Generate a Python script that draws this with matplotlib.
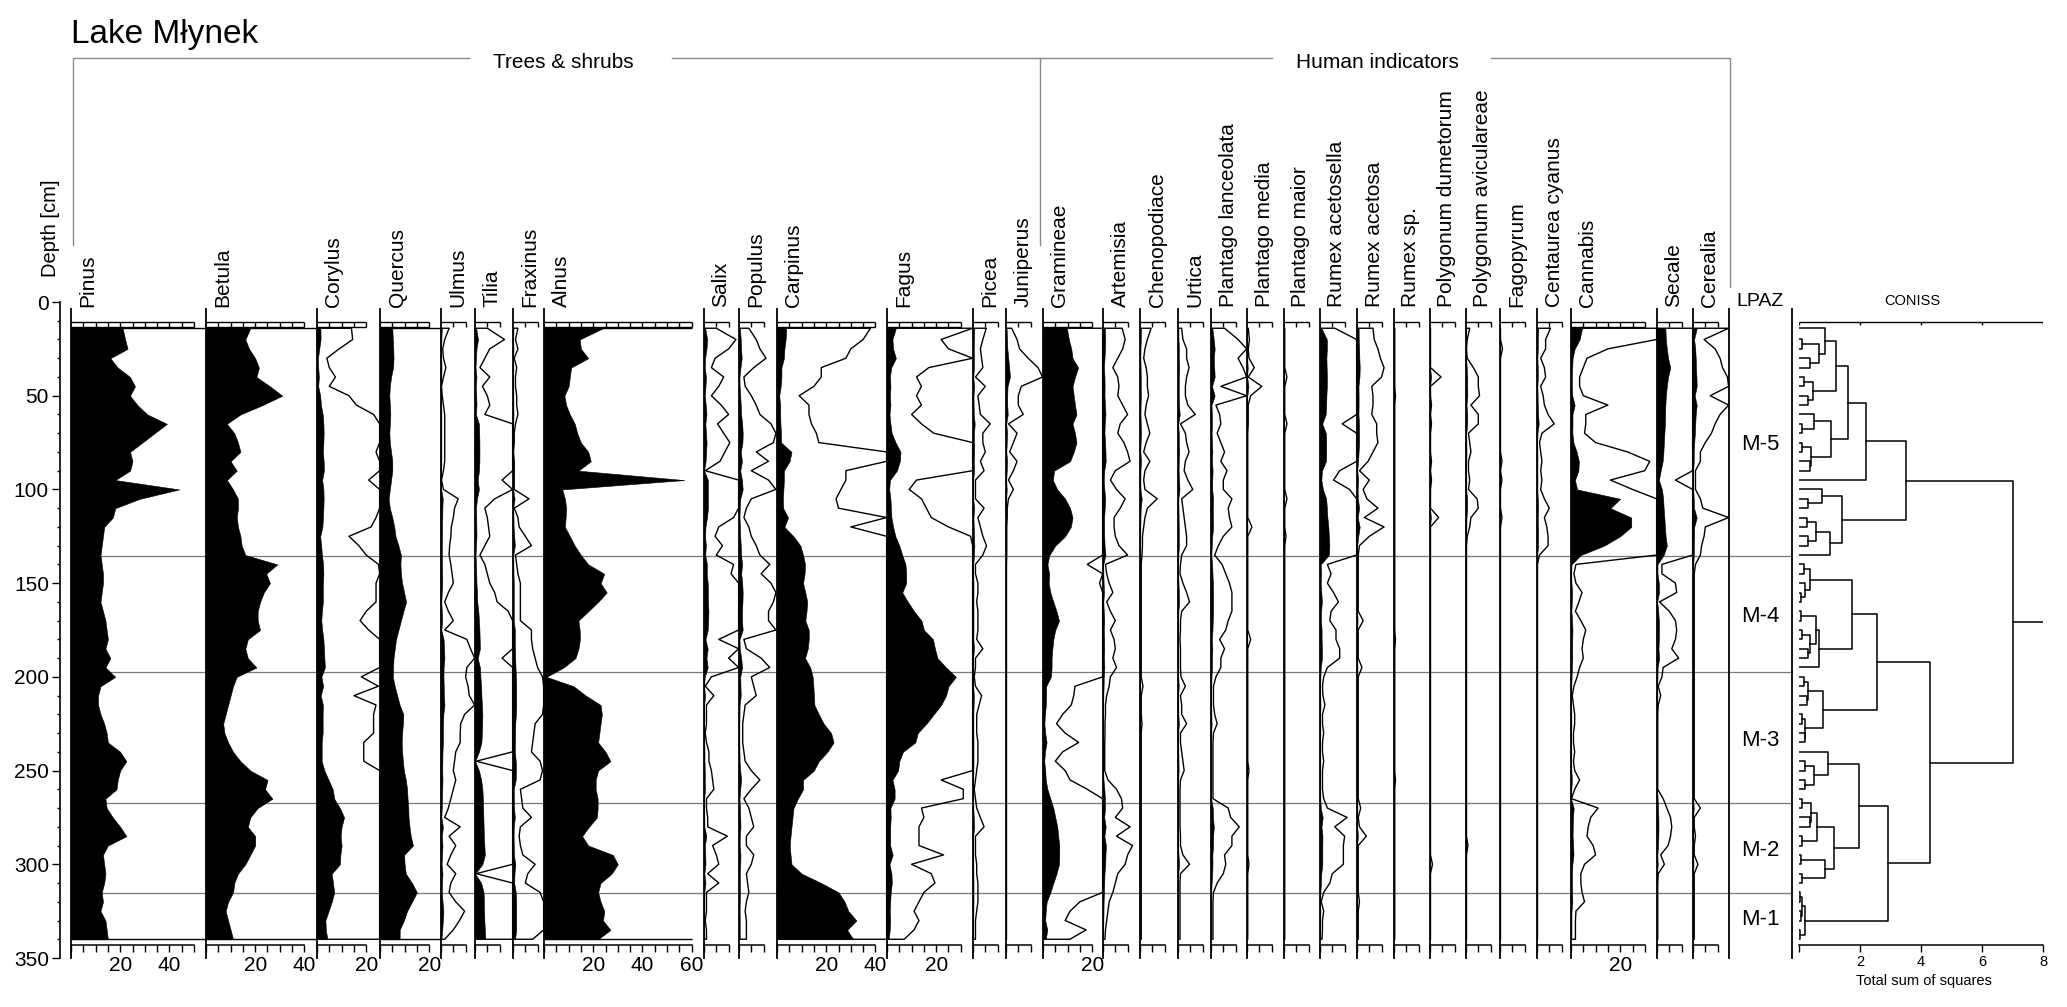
import numpy as np
import matplotlib.pyplot as plt
from matplotlib.ticker import MultipleLocator

plt.rcParams['font.family'] = ['Liberation Sans', 'DejaVu Sans']

# sample depths [cm]
depth = [14, 20, 25, 30, 35, 40, 45, 50, 55, 60,
         65, 70, 75, 80, 85, 90, 95, 100, 105, 110,
         115, 120, 125, 130, 135, 140, 145, 150, 155, 160,
         165, 170, 175, 180, 185, 190, 195, 200, 205, 210,
         215, 220, 225, 230, 235, 240, 245, 250, 255, 260,
         265, 270, 275, 280, 285, 290, 295, 300, 305, 310,
         315, 320, 325, 330, 335, 340]

# pollen percentages, one list per taxon (same order as depth)
pinus = [21, 22, 23, 16, 19, 24, 26, 24, 27, 31,
         39, 34, 29, 24, 25, 24, 18, 44, 28, 18,
         17, 13.5, 13, 12.5, 12, 12.5, 13, 13, 12.5, 12,
         13, 14, 14.5, 15, 14, 16, 14, 18, 12, 11,
         11, 12, 13.5, 14.5, 15, 20, 22.5, 20, 19, 18.5,
         14, 14.5, 17, 20, 22.5, 15, 13, 13.5, 14, 13.5,
         12.5, 13, 12, 14, 14.5, 15]
betula = [18, 16, 17.5, 20, 21.5, 20.5, 26, 31, 23, 14,
          8.5, 11.5, 13, 14, 10, 12.5, 8.5, 11, 13, 13,
          12.5, 13, 14, 14.5, 16, 29, 24.5, 26, 23.5, 22,
          21, 21, 22, 17, 16, 17, 20.5, 12.5, 11, 10,
          9, 8, 7, 7.5, 9, 11, 14, 18, 25, 24,
          27, 21, 18, 17, 20, 20, 18, 16, 13, 11.5,
          11, 9, 8, 9, 10, 11]
corylus = [1.4, 1.45, 0.9, 0.4, 0.5, 0.75, 0.5, 1.3, 1.6, 2.3,
           2.6, 2.7, 2.6, 2.4, 2.7, 2.8, 2.1, 2.6, 2.7, 2.6,
           2.4, 2.2, 1.3, 1.7, 2.0, 2.5, 2.6, 2.4, 2.4, 2.4,
           2.0, 1.75, 2.1, 2.6, 2.8, 3.0, 3.2, 1.8, 2.5, 1.5,
           2.4, 2.3, 2.3, 2.3, 1.9, 1.9, 1.9, 3.0, 4.7, 6.4,
           7, 9.3, 11, 10, 9.6, 10, 9.5, 9.3, 6, 6.5,
           7, 6, 4.7, 3.4, 3.6, 4.2]
quercus = [5, 5.2, 5.4, 5.5, 5.3, 4.5, 4, 3.8, 4, 4.2,
           4, 3.8, 4, 4.5, 5, 5, 4.5, 4, 3.5, 4,
           5, 5.8, 6.3, 7.5, 8.5, 8.3, 8.5, 9, 9.8, 10.6,
           9.5, 8.5, 7.5, 6.5, 6, 5.5, 5.3, 5.2, 6, 7,
           8, 9.5, 9.3, 9, 8.8, 9, 9.3, 9.7, 10.5, 11,
           11.2, 11.5, 11.6, 12, 12.5, 13.4, 9.8, 10, 10.5, 13,
           15, 13, 11, 9.7, 8, 8]
ulmus = [0.33, 0.15, 0.07, 0.1, 0.2, 0.1, 0.02, 0.05, 0.1, 0.15,
         0.15, 0.15, 0.15, 0.15, 0.15, 0.1, 0.02, 0.1, 0.7, 0.55,
         0.5, 0.42, 0.4, 0.35, 0.33, 0.4, 0.45, 0.5, 0.3, 0.15,
         0.3, 0.5, 0.15, 1.05, 1.2, 1.4, 1.05, 1.0, 1.1, 1.15,
         1.4, 0.96, 0.8, 0.78, 0.78, 0.6, 0.55, 0.5, 0.6, 0.5,
         0.4, 0.3, 0.15, 0.78, 0.33, 0.6, 0.4, 0.25, 0.6, 0.4,
         0.33, 0.6, 0.96, 0.75, 0.5, 0.15]
tilia = [0.5, 1.2, 0.6, 0.4, 0.2, 0.6, 0.3, 0.5, 0.6, 0.4,
         1.6, 1.7, 1.8, 1.8, 1.8, 1.6, 1.1, 1.6, 0.8, 0.4,
         0.5, 0.55, 0.6, 0.4, 0.2, 0.4, 0.5, 0.6, 0.8, 0.9,
         1.35, 1.6, 1.8, 1.9, 2.0, 1.1, 2.0, 2.2, 2.5, 2.6,
         2.8, 3.0, 2.9, 2.8, 2.6, 1.6, 0.05, 1.6, 2.5, 3.0,
         3.2, 3.3, 3.4, 3.5, 3.6, 3.8, 4.0, 3.0, 0.05, 2.5,
         3.5, 3.6, 3.7, 3.8, 4.0, 4.2]
fraxinus = [0.2, 0.1, 0.2, 0.05, 0.15, 0.1, 0.1, 0.15, 0.15, 0.2,
            0.1, 0.05, 0.05, 0.02, 0.05, 0.05, 0.05, 0.05, 0.65, 0.05,
            0.2, 0.25, 0.5, 0.75, 0.1, 0.15, 0.2, 0.3, 0.3, 0.3,
            0.3, 0.3, 0.75, 0.75, 0.8, 0.9, 1.0, 1.2, 1.3, 1.3,
            1.3, 1.2, 0.9, 0.85, 0.8, 0.75, 1.1, 1.2, 1.1, 0.3,
            0.35, 0.4, 0.75, 0.3, 0.25, 0.3, 0.4, 0.9, 0.6, 0.5,
            1.1, 1.3, 1.3, 1.3, 1.3, 0.8]
alnus = [24, 14.5, 15, 18, 11, 10.5, 10, 8.3, 9, 10.5,
         12.5, 13.5, 15, 18, 19, 14, 57, 7.4, 8.5, 9,
         8.8, 8.5, 10.5, 12.5, 15, 18, 24.5, 23, 25.5, 22,
         18, 14, 14.5, 14.6, 14, 12.8, 8, 1, 12, 17,
         23, 23.5, 23, 22.5, 22, 25, 27, 22, 21, 21,
         21.8, 21.8, 21.5, 18.3, 15.5, 18, 28, 30, 27.5, 23,
         22, 23, 24.5, 24, 27, 22]
salix = [0.5, 1.3, 1.0, 0.45, 0.3, 0.8, 0.6, 0.3, 0.7, 1.0,
         0.55, 0.8, 1.05, 0.85, 0.65, 0.05, 1.6, 1.6, 1.6, 1.6,
         1.2, 0.6, 0.45, 0.75, 0.5, 1.2, 1.1, 1.5, 1.6, 1.6,
         1.8, 1.7, 1.5, 0.6, 1.5, 1.0, 1.5, 0.3, 0.05, 0.4,
         0.1, 0.1, 0.1, 0.05, 0.1, 0.2, 0.2, 0.3, 0.35, 0.4,
         0.1, 0.1, 0.15, 0.15, 0.95, 0.35, 0.5, 0.6, 0.15, 0.6,
         0.1, 0.1, 0.1, 0.05, 0.1, 0.1]
populus = [0.4, 0.7, 0.85, 1.1, 0.6, 0.2, 0.25, 0.5, 0.7, 0.85,
           1.3, 1.5, 1.4, 0.7, 1.2, 0.5, 1.2, 1.5, 0.5, 0.3,
           0.2, 0.4, 0.5, 0.7, 0.85, 1.25, 0.9, 1.3, 1.5, 1.4,
           1.2, 1.2, 1.5, 0.2, 0.3, 0.9, 1.25, 0.5, 0.6, 0.7,
           0.25, 0.2, 0.15, 0.15, 0.15, 0.2, 0.25, 0.5, 0.85, 0.5,
           0.2, 0.4, 0.5, 0.6, 0.3, 0.3, 0.6, 0.5, 0.3, 0.35,
           0.4, 0.3, 0.25, 0.3, 0.3, 0.3]
carpinus = [3.8, 3.5, 3.0, 2.8, 1.8, 1.8, 1.5, 0.9, 1.3, 1.3,
            1.4, 1.6, 1.7, 5.9, 5.1, 2.8, 2.8, 2.6, 2.4, 2.5,
            4.5, 3.0, 6.7, 9.5, 10.6, 11.4, 11.2, 10.6, 11.5, 12.3,
            12, 11.5, 12.9, 12.9, 12.5, 11.4, 13.5, 14.5, 14.8, 15,
            15.2, 17, 19, 22, 23, 20.5, 17, 15, 10.6, 10.6,
            8.5, 6.7, 6.3, 5.9, 5.5, 5.2, 5.5, 5.9, 10, 18,
            25, 27.5, 29, 32.3, 28.5, 31]
fagus = [3.6, 2.2, 2.5, 3.6, 1.7, 1.2, 1.4, 1.2, 1.4, 1.0,
         1.4, 1.9, 3.5, 5.5, 5.2, 4.0, 1.2, 0.9, 1.4, 1.6,
         1.8, 2.5, 3.4, 5, 6.2, 7.5, 7.8, 7.8, 6.2, 8.5,
         11, 14, 15, 18.7, 19.5, 20.5, 24, 28, 25, 24,
         22, 19, 16, 12.5, 11.5, 6.5, 5, 4.5, 2.2, 3.1,
         3.1, 1.4, 1.5, 1.3, 1.3, 1.3, 2.3, 1.0, 1.8, 1.95,
         1.5, 1.3, 1.1, 1.3, 1.1, 0.7]
picea = [0.54, 0.4, 0.3, 0.35, 0.4, 0.1, 0.5, 0.2, 0.25, 0.3,
         0.7, 0.4, 0.4, 0.5, 0.3, 0.45, 0.1, 0.1, 0.1, 0.45,
         0.2, 0.3, 0.4, 0.55, 0.4, 0.1, 0.1, 0.2, 0.2, 0.15,
         0.2, 0.2, 0.2, 0.15, 0.4, 0.1, 0.1, 0.05, 0.1, 0.35,
         0.25, 0.15, 0.15, 0.15, 0.2, 0.2, 0.2, 0.15, 0.1, 0.05,
         0.1, 0.15, 0.3, 0.45, 0.1, 0.1, 0.1, 0.15, 0.15, 0.2,
         0.2, 0.2, 0.15, 0.1, 0.1, 0.1]
juniperus = [0.23, 0.45, 0.55, 0.9, 1.3, 1.6, 0.62, 0.5, 0.5, 0.7,
             0.1, 0.45, 0.3, 0.15, 0.45, 0.3, 0.1, 0.3, 0.1, 0.05,
             0.05, 0.03, 0.03, 0.03, 0.03, 0.02, 0.02, 0.02, 0.02, 0.02,
             0.02, 0.02, 0.02, 0.02, 0.02, 0.02, 0.02, 0.02, 0.02, 0.02,
             0.02, 0.02, 0.02, 0.02, 0.02, 0.02, 0.02, 0.02, 0.02, 0.02,
             0.02, 0.02, 0.02, 0.02, 0.02, 0.02, 0.02, 0.02, 0.02, 0.02,
             0.02, 0.02, 0.02, 0.02, 0.02, 0.02]
gramineae = [9.7, 10.5, 11.5, 12, 14.3, 13, 12, 12.5, 13, 13.6,
             12, 13, 13.6, 12.5, 11, 4.5, 4, 5.8, 9, 11,
             12, 11.3, 9, 5, 2.6, 1.8, 2.5, 2.3, 3, 4.2,
             5.5, 6.5, 5, 4.2, 3.8, 3.5, 3.5, 3.2, 1.3, 1.25,
             1.15, 0.8, 0.55, 0.9, 1.45, 0.8, 0.5, 0.9, 1.1, 1.8,
             3, 4.2, 5, 5.8, 6.2, 6.6, 6.6, 6.5, 5.5, 4.2,
             3, 1.5, 1.1, 0.9, 1.75, 1.1]
artemisia = [0.78, 0.9, 0.8, 0.6, 0.4, 0.6, 0.65, 0.6, 0.8, 1.0,
             0.7, 0.6, 0.85, 1.0, 1.1, 0.5, 0.3, 0.55, 0.9, 0.7,
             0.45, 0.45, 0.5, 0.65, 1.0, 0.1, 0.15, 0.25, 0.4, 0.15,
             0.3, 0.5, 0.3, 0.45, 0.5, 0.4, 0.55, 0.3, 0.25, 0.15,
             0.1, 0.1, 0.08, 0.08, 0.07, 0.07, 0.07, 0.07, 0.2, 0.55,
             0.75, 0.8, 0.5, 1.1, 0.55, 1.2, 1.0, 0.9, 0.6, 0.5,
             0.4, 0.25, 0.2, 0.15, 0.1, 0.08]
chenopodiace = [0.45, 0.3, 0.2, 0.15, 0.25, 0.3, 0.3, 0.35, 0.25, 0.2,
                0.3, 0.4, 0.25, 0.15, 0.4, 0.2, 0.15, 0.2, 0.7, 0.3,
                0.2, 0.15, 0.1, 0.1, 0.08, 0.05, 0.05, 0.05, 0.05, 0.05,
                0.05, 0.05, 0.05, 0.05, 0.05, 0.05, 0.05, 0.05, 0.12, 0.05,
                0.05, 0.05, 0.08, 0.05, 0.05, 0.05, 0.05, 0.05, 0.05, 0.05,
                0.05, 0.05, 0.05, 0.05, 0.05, 0.05, 0.05, 0.05, 0.05, 0.05,
                0.05, 0.05, 0.05, 0.05, 0.05, 0.05]
urtica = [0.15, 0.2, 0.35, 0.35, 0.45, 0.35, 0.3, 0.3, 0.4, 0.7,
          0.1, 0.3, 0.35, 0.45, 0.3, 0.25, 0.4, 0.6, 0.15, 0.2,
          0.25, 0.3, 0.35, 0.35, 0.15, 0.1, 0.08, 0.2, 0.35, 0.47,
          0.15, 0.1, 0.1, 0.08, 0.1, 0.1, 0.1, 0.12, 0.3, 0.1,
          0.15, 0.15, 0.35, 0.1, 0.1, 0.15, 0.2, 0.25, 0.1, 0.08,
          0.08, 0.08, 0.08, 0.08, 0.1, 0.1, 0.2, 0.47, 0.1, 0.08,
          0.08, 0.08, 0.08, 0.08, 0.08, 0.08]
plantago_lanceolata = [0.55, 1.1, 1.5, 1.1, 1.3, 1.5, 0.4, 1.5, 0.2, 0.35,
                       0.4, 0.25, 0.4, 0.55, 0.4, 0.65, 0.5, 0.5, 0.85, 0.7,
                       0.75, 0.85, 0.5, 0.3, 0.15, 0.45, 0.6, 0.75, 0.85, 0.85,
                       0.85, 0.7, 0.6, 0.35, 0.55, 0.4, 0.4, 0.2, 0.1, 0.1,
                       0.1, 0.15, 0.25, 0.1, 0.08, 0.08, 0.08, 0.08, 0.08, 0.08,
                       0.08, 0.7, 0.8, 1.15, 0.85, 0.85, 0.55, 0.6, 0.5, 0.25,
                       0.1, 0.08, 0.08, 0.08, 0.08, 0.08]
plantago_media = [0.05, 0.1, 0.05, 0.08, 0.3, 0.05, 0.6, 0.15, 0.05, 0.05,
                  0.05, 0.03, 0.03, 0.03, 0.03, 0.03, 0.03, 0.03, 0.03, 0.03,
                  0.03, 0.2, 0.03, 0.03, 0.03, 0.03, 0.03, 0.03, 0.03, 0.03,
                  0.03, 0.03, 0.03, 0.15, 0.03, 0.03, 0.03, 0.03, 0.03, 0.03,
                  0.03, 0.03, 0.03, 0.03, 0.03, 0.03, 0.03, 0.08, 0.03, 0.03,
                  0.03, 0.03, 0.03, 0.03, 0.03, 0.03, 0.03, 0.08, 0.03, 0.03,
                  0.03, 0.03, 0.03, 0.03, 0.03, 0.03]
plantago_maior = [0.03, 0.03, 0.03, 0.03, 0.03, 0.12, 0.03, 0.03, 0.03, 0.03,
                  0.12, 0.03, 0.03, 0.03, 0.03, 0.03, 0.03, 0.03, 0.12, 0.03,
                  0.03, 0.03, 0.08, 0.03, 0.03, 0.03, 0.03, 0.03, 0.03, 0.03,
                  0.03, 0.03, 0.03, 0.03, 0.03, 0.03, 0.03, 0.03, 0.03, 0.03,
                  0.03, 0.03, 0.03, 0.03, 0.03, 0.03, 0.03, 0.03, 0.03, 0.03,
                  0.03, 0.03, 0.03, 0.03, 0.03, 0.03, 0.03, 0.03, 0.03, 0.03,
                  0.03, 0.03, 0.03, 0.03, 0.03, 0.03]
rumex_acetosella = [0.6, 2.8, 2.8, 2.6, 2.7, 2.8, 2.8, 2.6, 2.5, 2.3,
                    0.9, 2.4, 2.5, 2.5, 2.4, 0.8, 0.55, 1.2, 2.5, 2.8,
                    3.0, 3.4, 3.6, 3.8, 3.6, 0.3, 0.45, 0.3, 0.55, 0.75,
                    0.45, 0.4, 0.65, 0.65, 0.8, 0.8, 0.3, 0.15, 0.1, 0.12,
                    0.2, 0.1, 0.1, 0.15, 0.1, 0.1, 0.15, 0.1, 0.1, 0.1,
                    0.15, 0.3, 1.1, 0.6, 1.0, 0.95, 0.95, 0.95, 0.5, 0.4,
                    0.15, 0.05, 0.15, 0.1, 0.1, 0.08]
rumex_acetosa = [0.65, 0.7, 0.85, 0.95, 1.1, 1.0, 0.6, 0.65, 0.65, 0.6,
                 0.8, 0.8, 0.85, 0.65, 0.45, 0.1, 0.5, 0.25, 0.4, 0.85,
                 0.3, 1.1, 0.5, 0.1, 0.05, 0.05, 0.05, 0.05, 0.05, 0.05,
                 0.05, 0.25, 0.05, 0.05, 0.05, 0.05, 0.2, 0.05, 0.05, 0.05,
                 0.05, 0.05, 0.05, 0.05, 0.05, 0.05, 0.05, 0.05, 0.05, 0.05,
                 0.05, 0.15, 0.05, 0.1, 0.38, 0.05, 0.05, 0.05, 0.05, 0.05,
                 0.05, 0.1, 0.05, 0.05, 0.05, 0.05]
rumex_sp = [0.03, 0.03, 0.03, 0.03, 0.03, 0.03, 0.03, 0.06, 0.03, 0.03,
            0.03, 0.03, 0.03, 0.03, 0.03, 0.03, 0.03, 0.03, 0.03, 0.03,
            0.03, 0.03, 0.03, 0.03, 0.03, 0.03, 0.03, 0.03, 0.03, 0.03,
            0.03, 0.03, 0.03, 0.06, 0.03, 0.03, 0.03, 0.03, 0.03, 0.03,
            0.03, 0.03, 0.03, 0.03, 0.03, 0.03, 0.03, 0.03, 0.06, 0.03,
            0.03, 0.03, 0.03, 0.03, 0.03, 0.03, 0.03, 0.03, 0.03, 0.03,
            0.03, 0.03, 0.03, 0.03, 0.03, 0.03]
polygonum_dumetorum = [0.02, 0.02, 0.02, 0.02, 0.02, 0.45, 0.02, 0.02, 0.06, 0.02,
                       0.06, 0.02, 0.02, 0.02, 0.06, 0.02, 0.06, 0.02, 0.02, 0.02,
                       0.35, 0.02, 0.02, 0.02, 0.02, 0.02, 0.02, 0.02, 0.02, 0.02,
                       0.02, 0.02, 0.02, 0.02, 0.02, 0.02, 0.02, 0.02, 0.02, 0.02,
                       0.02, 0.02, 0.02, 0.02, 0.02, 0.02, 0.02, 0.02, 0.02, 0.02,
                       0.02, 0.02, 0.02, 0.02, 0.02, 0.02, 0.02, 0.1, 0.02, 0.02,
                       0.02, 0.02, 0.02, 0.02, 0.02, 0.02]
polygonum_aviculareae = [0.15, 0.05, 0.02, 0.05, 0.3, 0.5, 0.5, 0.55, 0.2, 0.5,
                         0.5, 0.1, 0.15, 0.2, 0.1, 0.1, 0.15, 0.1, 0.45, 0.5,
                         0.2, 0.15, 0.05, 0.02, 0.02, 0.02, 0.02, 0.02, 0.02, 0.02,
                         0.02, 0.02, 0.02, 0.02, 0.02, 0.02, 0.02, 0.02, 0.02, 0.02,
                         0.02, 0.02, 0.02, 0.02, 0.02, 0.02, 0.02, 0.02, 0.02, 0.02,
                         0.02, 0.02, 0.02, 0.02, 0.02, 0.08, 0.02, 0.02, 0.02, 0.02,
                         0.02, 0.02, 0.02, 0.02, 0.02, 0.02]
fagopyrum = [0.02, 0.02, 0.1, 0.02, 0.02, 0.02, 0.02, 0.02, 0.02, 0.02,
             0.02, 0.02, 0.02, 0.02, 0.08, 0.02, 0.08, 0.02, 0.02, 0.02,
             0.08, 0.02, 0.02, 0.02, 0.02, 0.02, 0.02, 0.02, 0.02, 0.02,
             0.02, 0.02, 0.02, 0.02, 0.02, 0.02, 0.02, 0.02, 0.02, 0.02,
             0.02, 0.02, 0.02, 0.02, 0.02, 0.02, 0.02, 0.02, 0.02, 0.02,
             0.02, 0.02, 0.02, 0.02, 0.02, 0.02, 0.02, 0.02, 0.02, 0.02,
             0.02, 0.02, 0.02, 0.02, 0.02, 0.02]
centaurea_cyanus = [0.55, 0.35, 0.35, 0.15, 0.3, 0.35, 0.15, 0.25, 0.3, 0.45,
                    0.7, 0.2, 0.1, 0.15, 0.2, 0.15, 0.2, 0.15, 0.3, 0.5,
                    0.3, 0.4, 0.45, 0.45, 0.1, 0.02, 0.02, 0.02, 0.02, 0.02,
                    0.02, 0.02, 0.02, 0.02, 0.02, 0.02, 0.02, 0.02, 0.02, 0.02,
                    0.02, 0.02, 0.02, 0.02, 0.02, 0.02, 0.02, 0.02, 0.02, 0.02,
                    0.02, 0.02, 0.02, 0.02, 0.02, 0.02, 0.02, 0.02, 0.02, 0.02,
                    0.02, 0.02, 0.02, 0.02, 0.02, 0.02]
cannabis = [4.5, 3.5, 1.5, 0.65, 0.5, 0.35, 0.35, 0.5, 1.5, 0.6,
            0.6, 0.55, 1.0, 2.3, 3.2, 3.0, 1.6, 2.5, 20, 16,
            24.5, 24.5, 20, 13.5, 4, 0.2, 0.12, 0.2, 0.45, 0.32,
            0.18, 0.4, 0.6, 0.5, 0.45, 0.5, 0.35, 0.25, 0.12, 0.05,
            0.1, 0.15, 0.15, 0.1, 0.1, 0.15, 0.1, 0.15, 0.35, 0.15,
            0.02, 1.1, 0.8, 0.7, 0.65, 0.9, 1.0, 0.55, 0.4, 0.4,
            0.45, 0.55, 0.2, 0.18, 0.18, 0.18]
secale = [3.4, 3.6, 4, 4.5, 5.4, 4.5, 4, 3.6, 3.4, 3.3,
          3.2, 3, 2.8, 2.6, 2.3, 1.5, 0.75, 2.0, 2.5, 2.7,
          3.0, 3.2, 3.5, 4, 2.7, 0.2, 0.2, 0.75, 0.8, 0.1,
          0.5, 0.75, 0.8, 0.75, 0.6, 0.88, 0.25, 0.2, 0.05, 0.15,
          0.05, 0.03, 0.03, 0.03, 0.03, 0.03, 0.03, 0.03, 0.03, 0.03,
          0.25, 0.4, 0.55, 0.6, 0.55, 0.45, 0.15, 0.3, 0.05, 0.03,
          0.03, 0.03, 0.03, 0.03, 0.03, 0.03]
cerealia = [1.5, 0.45, 0.9, 1.1, 1.2, 1.4, 1.5, 0.7, 1.5, 1.1,
            0.9, 0.75, 0.5, 0.3, 0.3, 0.1, 0.1, 0.1, 0.3, 0.4,
            1.5, 0.5, 0.45, 0.35, 0.3, 0.1, 0.05, 0.05, 0.05, 0.05,
            0.05, 0.05, 0.05, 0.05, 0.05, 0.05, 0.05, 0.05, 0.05, 0.05,
            0.05, 0.05, 0.05, 0.05, 0.05, 0.05, 0.05, 0.05, 0.05, 0.05,
            0.05, 0.3, 0.05, 0.05, 0.1, 0.05, 0.05, 0.2, 0.05, 0.05,
            0.05, 0.05, 0.05, 0.05, 0.05, 0.05]

taxa = ["Pinus", "Betula", "Corylus", "Quercus", "Ulmus", "Tilia", "Fraxinus",
        "Alnus", "Salix", "Populus", "Carpinus", "Fagus", "Picea", "Juniperus",
        "Gramineae", "Artemisia", "Chenopodiace", "Urtica", "Plantago lanceolata",
        "Plantago media", "Plantago maior", "Rumex acetosella", "Rumex acetosa",
        "Rumex sp.", "Polygonum dumetorum", "Polygonum aviculareae", "Fagopyrum",
        "Centaurea cyanus", "Cannabis", "Secale", "Cerealia"]
values = [pinus, betula, corylus, quercus, ulmus, tilia, fraxinus, alnus,
          salix, populus, carpinus, fagus, picea, juniperus, gramineae,
          artemisia, chenopodiace, urtica, plantago_lanceolata, plantago_media,
          plantago_maior, rumex_acetosella, rumex_acetosa, rumex_sp,
          polygonum_dumetorum, polygonum_aviculareae, fagopyrum,
          centaurea_cyanus, cannabis, secale, cerealia]
scale_max = [50, 40, 20, 20, 10, 10, 10, 60, 10, 10, 40, 30, 10, 10, 20, 10,
             10, 10, 10, 10, 10, 10, 10, 10, 10, 10, 10, 10, 30, 10, 10]
scale_labels = {"Pinus": [20, 40], "Betula": [20, 40], "Corylus": [20],
                "Quercus": [20], "Alnus": [20, 40, 60], "Carpinus": [20, 40],
                "Fagus": [20], "Gramineae": [20], "Cannabis": [20]}
no_exaggeration = ["Alnus"]

# local pollen assemblage zones
zone_bounds = [135.5, 197.4, 267.3, 315.4]
zone_names = ["M-5", "M-4", "M-3", "M-2", "M-1"]

# CONISS clustering: (child, child, total sum of squares); ints are sample indices
coniss_tree = (
    ((((((0, ((1, 2, 0.1), (3, 4, 0.35), 0.65), 0.85),
         ((5, 6, 0.15), (7, 8, 0.3), 0.45), 1.2),
        ((9, (10, 11, 0.1), 0.5), ((12, 13, 0.1), (14, 15, 0.35), 0.4), 1.05), 1.6),
       16, 2.2),
      ((17, (18, 19, 0.3), 0.75),
       (((20, 21, 0.25), (22, 23, 0.3), 0.55), 24, 1.0), 1.4), 3.5)),
    (((((25, 26, 0.15), (27, (28, 29, 0.05), 0.2), 0.35),
       (((30, 31, 0.05), ((32, 33, 0.1), (34, 35, 0.3), 0.35), 0.55), 36, 0.65), 1.75),
      (((37, 38, 0.15), (39, 40, 0.25), 0.3), ((41, 42, 0.1), (43, 44, 0.2), 0.2), 0.8),
      2.55),
     (((45, ((46, 47, 0.2), (48, 49, 0.2), 0.5), 0.95),
       ((((50, 51, 0.1), (52, 53, 0.35), 0.4), (54, 55, 0.1), 0.6),
        ((56, 57, 0.05), (58, 59, 0.1), 0.85), 1.15), 1.97),
      (((60, 61, 0.02), (62, 63, 0.05), 0.1), (64, 65, 0.03), 0.2), 2.93),
     4.3),
    7.0)

# ---------------- layout (pixels of the 2067 x 1007 canvas) ----------------
W, H = 2067, 1007
PPU = 2.46                      # pixels per percent
Y_TOP, Y_BOT = 302, 958         # pixel rows of depth 0 and 350
lefts = [71, 206, 317, 380, 441, 475, 513, 544, 704, 739, 777, 887, 973, 1006,
         1043, 1103, 1140, 1178, 1211, 1247, 1284, 1320, 1357, 1394, 1430, 1466,
         1500, 1537, 1571, 1657, 1693]
LPAZ_X, CONISS_L, CONISS_X0, CONISS_X1 = 1729, 1792, 1799, 2043
RULE_TOP, RULE_LOW, AX_BOT, LINE_TOP = 10.7, 13.4, 343.1, 3.7
GREY = '#8a8a8a'

fb = 1 - Y_BOT / H
fh = (Y_BOT - Y_TOP) / H


def depth_axes(x0, x1, **kw):
    ax = fig.add_axes([x0 / W, fb, (x1 - x0) / W, fh], **kw)
    ax.set_ylim(350, 0)
    ax.patch.set_visible(False)
    return ax


fig = plt.figure(figsize=(W / 100, H / 100), dpi=100)

deco = fig.add_axes([0, 0, 1, 1])
deco.set_xlim(0, W)
deco.set_ylim(H, 0)
deco.axis('off')

# zone boundary lines
zax = depth_axes(71, CONISS_L)
zax.set_xlim(0, 1)
zax.axis('off')
zax.hlines(zone_bounds, 0, 1, color='#7a7a7a', lw=0.9)

d = np.array(depth)
for i, name in enumerate(taxa):
    x0 = lefts[i]
    x1 = lefts[i + 1] if i + 1 < len(lefts) else LPAZ_X
    span = (x1 - x0) / PPU
    ax = depth_axes(x0, x1)
    ax.set_xlim(0, span)
    v = np.array(values[i], dtype=float)
    ax.fill_betweenx(d, 0, v, facecolor='black', edgecolor='black', lw=0.4)
    if name in no_exaggeration:
        ax.hlines([d[0], d[-1]], 0, scale_max[i], color='black', lw=1.0)
    else:
        ex = np.minimum(v * 10, span - 0.15)
        ax.plot(np.r_[0, ex, 0], np.r_[d[0], d, d[-1]], color='black', lw=1.0)

    for s in ('top', 'right'):
        ax.spines[s].set_visible(False)
    ax.spines['left'].set_bounds(LINE_TOP, 350)
    ax.spines['left'].set_linewidth(1.3)
    ax.spines['bottom'].set_position(('data', AX_BOT))
    ax.spines['bottom'].set_bounds(0, scale_max[i])
    ax.spines['bottom'].set_linewidth(1.1)
    ticks = np.arange(0, scale_max[i] + 1, 5)
    labs = scale_labels.get(name, [])
    ax.set_xticks(ticks)
    ax.set_xticklabels([str(int(t)) if int(t) in labs else '' for t in ticks])
    ax.tick_params(axis='x', direction='out', length=5, width=1.0, pad=3,
                   labelsize=15)
    ax.set_yticks([])
    ax.hlines(RULE_TOP, 0, scale_max[i], color='black', lw=1.0)
    ax.vlines(ticks[1:], RULE_TOP, RULE_LOW, color='black', lw=1.0)
    if scale_max[i] > 10:
        ax.hlines(RULE_LOW, 0, scale_max[i], color='black', lw=1.0)

    deco.text(x0 + 17, 307, name, rotation=90, ha='center', va='bottom',
              fontsize=15)

# depth axis
dax = depth_axes(60, 60.5)
for s in ('top', 'right', 'bottom'):
    dax.spines[s].set_visible(False)
dax.spines['left'].set_linewidth(1.2)
dax.set_xticks([])
dax.set_yticks(np.arange(0, 351, 50))
dax.yaxis.set_minor_locator(MultipleLocator(10))
dax.tick_params(axis='y', which='major', length=6, width=1.0, pad=2,
                labelsize=15)
dax.tick_params(axis='y', which='minor', length=2.5, width=1.0)

# LPAZ column
lax = depth_axes(LPAZ_X, CONISS_L)
lax.set_xlim(0, 1)
for s in ('top', 'right', 'bottom'):
    lax.spines[s].set_visible(False)
lax.spines['left'].set_bounds(LINE_TOP, 350)
lax.spines['left'].set_linewidth(1.3)
lax.set_xticks([])
lax.set_yticks([])
edges = [depth[0]] + zone_bounds + [depth[-1]]
for k, zname in enumerate(zone_names):
    lax.text(0.5, (edges[k] + edges[k + 1]) / 2 + 1.5, zname, ha='center',
             va='center', fontsize=16)

# CONISS dendrogram
cax = depth_axes(CONISS_X0, CONISS_X1)
cax.set_xlim(0, 8)
for s in ('top', 'right'):
    cax.spines[s].set_visible(False)
cax.spines['left'].set_position(('outward', 5))
cax.spines['left'].set_bounds(LINE_TOP, 350)
cax.spines['left'].set_linewidth(1.3)
cax.spines['bottom'].set_position(('data', AX_BOT))
cax.spines['bottom'].set_bounds(0, 8)
cax.spines['bottom'].set_linewidth(1.1)
cax.set_xticks([0, 2, 4, 6, 8])
cax.set_xticklabels(['', '2', '4', '6', '8'])
cax.tick_params(axis='x', direction='out', length=5, width=1.0, pad=2,
                labelsize=10.5)
cax.set_yticks([])
cax.hlines(RULE_TOP, 0, 8, color='black', lw=1.0)
cax.vlines([0, 2, 4, 6, 8], RULE_TOP, 12.3, color='black', lw=1.0)


def draw_node(node):
    if isinstance(node, int):
        return depth[node], 0.0
    a, b, hgt = node
    ya, ha = draw_node(a)
    yb, hb = draw_node(b)
    cax.plot([ha, hgt, hgt, hb], [ya, ya, yb, yb], color='black', lw=1.1)
    return (ya + yb) / 2, hgt


ry, rh = draw_node(coniss_tree)
cax.plot([rh, 8], [ry, ry], color='black', lw=1.1)

# headers
deco.text(71, 43, "Lake Młynek", ha='left', va='baseline', fontsize=24)
deco.plot([73, 73, 469], [245, 58, 58], color=GREY, lw=1.0)
deco.plot([672, 1272], [58, 58], color=GREY, lw=1.0)
deco.plot([1040, 1040], [58, 245], color=GREY, lw=1.0)
deco.plot([1491, 1730, 1730], [58, 58, 287], color=GREY, lw=1.0)
deco.text(563, 68, "Trees & shrubs", ha='center', va='baseline', fontsize=15)
deco.text(1377, 68, "Human indicators", ha='center', va='baseline', fontsize=15)
deco.text(50, 277, "Depth [cm]", rotation=90, ha='center', va='bottom',
          fontsize=14.5)
deco.text(1760, 301, "LPAZ", ha='center', va='center', fontsize=14)
deco.text(1912, 301, "CONISS", ha='center', va='center', fontsize=10.5)
deco.text(1924, 981, "Total sum of squares", ha='center', va='center',
          fontsize=10.5)

fig.savefig("out.png", dpi=100)
